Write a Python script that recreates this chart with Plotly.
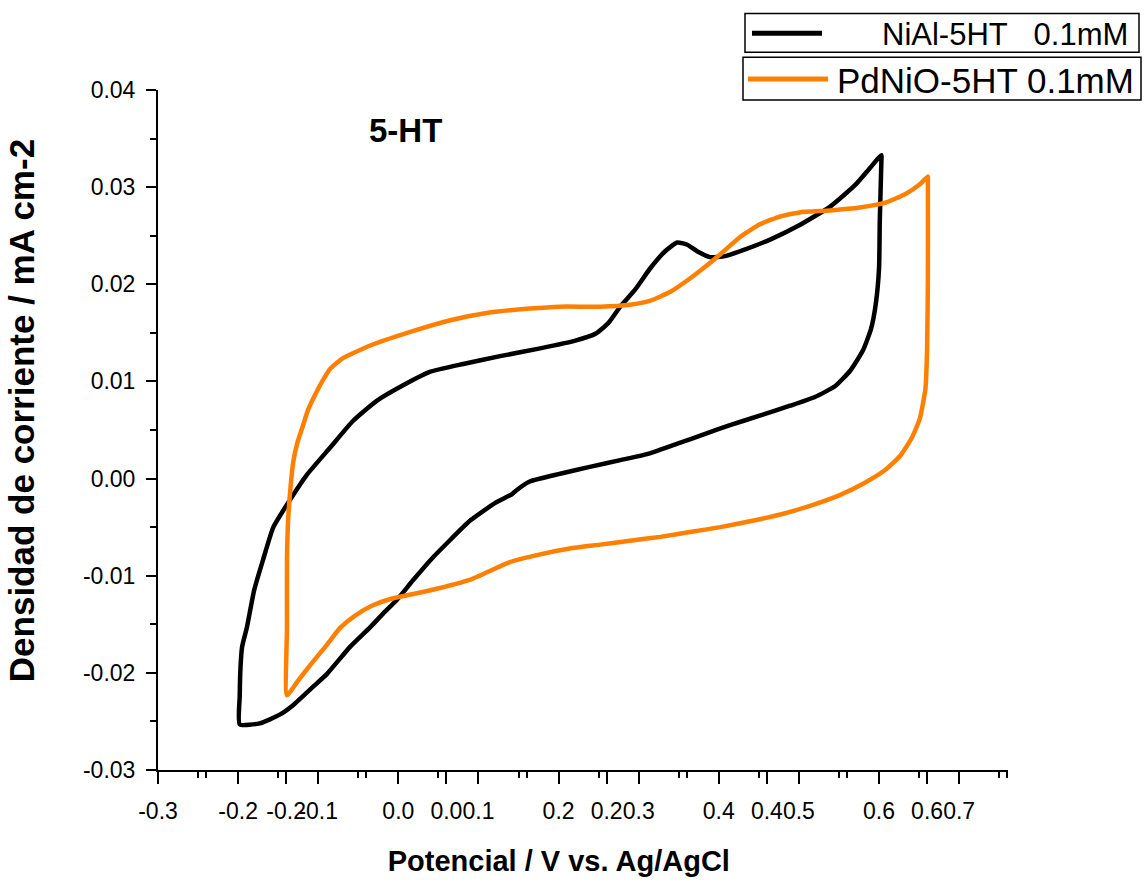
import plotly.graph_objects as go

# NiAl-5HT 0.1mM (plotted against bottom axis A)
nial_x = [-0.198, -0.198, -0.197, -0.195, -0.189, -0.180, -0.169, -0.156, -0.136, -0.114, -0.085, -0.057,
          -0.027, 0.006, 0.040, 0.081, 0.127, 0.177, 0.221, 0.246, 0.262, 0.277, 0.296, 0.314, 0.333,
          0.348, 0.360, 0.373, 0.389, 0.408, 0.433, 0.464, 0.501, 0.539, 0.570, 0.589, 0.603,
          0.603, 0.601, 0.600, 0.596, 0.590, 0.580, 0.564, 0.545, 0.520, 0.489, 0.452, 0.414, 0.383,
          0.352, 0.314, 0.277, 0.239, 0.202, 0.164, 0.146, 0.142, 0.121, 0.090, 0.065, 0.040, 0.018,
          -0.002, -0.019, -0.035, -0.060, -0.089, -0.106, -0.131, -0.148, -0.173, -0.198]
nial_y = [-0.0253, -0.0224, -0.0194, -0.0173, -0.0153, -0.0115, -0.0084, -0.0050, -0.0023, 0.0004, 0.0032,
          0.0059, 0.0080, 0.0096, 0.0110, 0.0118, 0.0126, 0.0134, 0.0142, 0.0149, 0.0160, 0.0177, 0.0195,
          0.0216, 0.0234, 0.0243, 0.0241, 0.0234, 0.0228, 0.0229, 0.0236, 0.0246, 0.0261, 0.0280, 0.0302,
          0.0320, 0.0333,
          0.0328, 0.0267, 0.0216, 0.0180, 0.0154, 0.0132, 0.0111, 0.0095, 0.0084, 0.0075, 0.0065, 0.0055,
          0.0046, 0.0037, 0.0026, 0.0019, 0.0012, 0.0005, -0.0003, -0.0013, -0.0016, -0.0025, -0.0043,
          -0.0063, -0.0084, -0.0105, -0.0125, -0.0139, -0.0153, -0.0173, -0.0201, -0.0214, -0.0233,
          -0.0243, -0.0252, -0.0253]

# PdNiO-5HT 0.1mM (plotted against the second, overlaid bottom axis B)
pdnio_x = [-0.199, -0.199, -0.199, -0.198, -0.196, -0.191, -0.186, -0.180, -0.173, -0.164, -0.155, -0.145,
           -0.129, -0.095, -0.045, 0.005, 0.054, 0.104, 0.142, 0.192, 0.229, 0.254, 0.279, 0.304, 0.323,
           0.342, 0.367, 0.392, 0.417, 0.441, 0.479, 0.516, 0.548, 0.573, 0.591, 0.601,
           0.601, 0.601, 0.600, 0.598, 0.591, 0.581, 0.566, 0.548, 0.523, 0.491, 0.454, 0.417, 0.379,
           0.342, 0.304, 0.267, 0.229, 0.192, 0.154, 0.117, 0.079, 0.030, -0.020, -0.070, -0.093,
           -0.114, -0.133, -0.149, -0.170, -0.186, -0.199]
pdnio_y = [-0.0223, -0.0153, -0.0081, -0.0050, -0.0023, 0.0018, 0.0037, 0.0052, 0.0070, 0.0086, 0.0100,
           0.0113, 0.0124, 0.0137, 0.0151, 0.0163, 0.0171, 0.0175, 0.0177, 0.0177, 0.0179, 0.0183, 0.0192,
           0.0206, 0.0218, 0.0231, 0.0249, 0.0262, 0.0270, 0.0274, 0.0276, 0.0279, 0.0284, 0.0293, 0.0303,
           0.0311,
           0.0308, 0.0206, 0.0134, 0.0093, 0.0062, 0.0042, 0.0023, 0.0009, -0.0004, -0.0017, -0.0028,
           -0.0037, -0.0044, -0.0050, -0.0055, -0.0060, -0.0064, -0.0068, -0.0072, -0.0078, -0.0086,
           -0.0104, -0.0115, -0.0124, -0.0131, -0.0141, -0.0154, -0.0171, -0.0192, -0.0209, -0.0223]

# tick labels (plain hyphen minus, as in the reference)
xa_ticks = [-0.3, -0.2, -0.1, 0.0, 0.1, 0.2, 0.3, 0.4, 0.5, 0.6, 0.7]
xa_labels = ["-0.3", "-0.2", "-0.1", "0.0", "0.1", "0.2", "0.3", "0.4", "0.5", "0.6", "0.7"]
xb_ticks = [-0.2, 0.0, 0.2, 0.4, 0.6]
xb_labels = ["-0.2", "0.0", "0.2", "0.4", "0.6"]
y_ticks = [-0.03, -0.02, -0.01, 0.0, 0.01, 0.02, 0.03, 0.04]
y_labels = ["-0.03", "-0.02", "-0.01", "0.00", "0.01", "0.02", "0.03", "0.04"]

label_nial = "NiAl-5HT\u00a0\u00a0\u00a00.1mM"
label_pdnio = "PdNiO-5HT 0.1mM"
color_nial = "black"
color_pdnio = "#ff8000"
NB = "\u00a0"

FONT = "Liberation Sans, Arial, sans-serif"
W, H = 1144, 884
L, R, T, B = 158, 136, 90, 110
pw, ph = W - L - R, H - T - B


def px(xpix):
    return (xpix - L) / pw


def py(ypix):
    return (H - B - ypix) / ph


fig = go.Figure()
fig.add_trace(go.Scatter(x=nial_x, y=nial_y, mode="lines", name=label_nial, showlegend=False,
                         line=dict(color=color_nial, width=4.5, shape="spline", smoothing=0.5),
                         xaxis="x", yaxis="y"))
fig.add_trace(go.Scatter(x=pdnio_x, y=pdnio_y, mode="lines", name=label_pdnio, showlegend=False,
                         line=dict(color=color_pdnio, width=4.5, shape="spline", smoothing=0.5),
                         xaxis="x2", yaxis="y"))

axis_common = dict(showline=True, linecolor="black", linewidth=2, ticks="outside", tickwidth=2,
                   tickcolor="black", showgrid=False, zeroline=False,
                   tickfont=dict(family=FONT, size=23, color="black"))
minor_common = dict(ticks="outside", ticklen=6, tickwidth=2, tickcolor="black", tick0=0)

# hand-built legend boxes (two separate framed entries, as in the reference)
shapes = [
    dict(type="rect", xref="paper", yref="paper", x0=px(745), x1=px(1139), y0=py(52), y1=py(13),
         line=dict(color="black", width=1.5), fillcolor="white", layer="above"),
    dict(type="line", xref="paper", yref="paper", x0=px(752), x1=px(822), y0=py(33), y1=py(33),
         line=dict(color=color_nial, width=5), layer="above"),
    dict(type="rect", xref="paper", yref="paper", x0=px(743), x1=px(1141), y0=py(100), y1=py(57),
         line=dict(color="black", width=1.5), fillcolor="white", layer="above"),
    dict(type="line", xref="paper", yref="paper", x0=px(748), x1=px(828), y0=py(79), y1=py(79),
         line=dict(color=color_pdnio, width=5), layer="above"),
]

annotations = [
    dict(text="<b>5-HT</b>", x=px(405), y=py(131), xref="paper", yref="paper", xanchor="center",
         yanchor="middle", showarrow=False, font=dict(family=FONT, size=33, color="black")),
    dict(text=label_nial, x=px(880), y=py(34), xref="paper", yref="paper", xanchor="left",
         yanchor="middle", showarrow=False, font=dict(family=FONT, size=31, color="black")),
    dict(text=label_pdnio, x=px(835), y=py(80), xref="paper", yref="paper", xanchor="left",
         yanchor="middle", showarrow=False, font=dict(family=FONT, size=35, color="black")),
]

fig.update_layout(
    width=W, height=H,
    margin=dict(l=L, r=R, t=T, b=B),
    paper_bgcolor="white", plot_bgcolor="white",
    font=dict(family=FONT, color="black"),
    showlegend=False,
    xaxis=dict(range=[-0.3, 0.761], tickmode="array", tickvals=xa_ticks, ticktext=xa_labels, ticklen=12,
               ticklabelstandoff=7,
               minor=dict(dtick=0.05, **minor_common),
               title=dict(text="<b>Potencial / V vs. Ag/AgCl" + NB * 6 + "</b>",
                          font=dict(family=FONT, size=29), standoff=28),
               **axis_common),
    xaxis2=dict(overlaying="x", anchor="y", side="bottom", range=[-0.36, 0.701], tickmode="array",
                tickvals=xb_ticks, ticktext=xb_labels, ticklen=12, ticklabelstandoff=7,
                minor=dict(dtick=0.1, **minor_common),
                **axis_common),
    yaxis=dict(range=[-0.03, 0.04], tickmode="array", tickvals=y_ticks, ticktext=y_labels, ticklen=10,
               ticklabelstandoff=6,
               minor=dict(dtick=0.005, **minor_common),
               title=dict(text="<b>" + NB * 4 + "Densidad de corriente / mA cm-2</b>",
                          font=dict(family=FONT, size=35), standoff=38),
               **axis_common),
    shapes=shapes,
    annotations=annotations,
)

fig.write_html("out.html")
